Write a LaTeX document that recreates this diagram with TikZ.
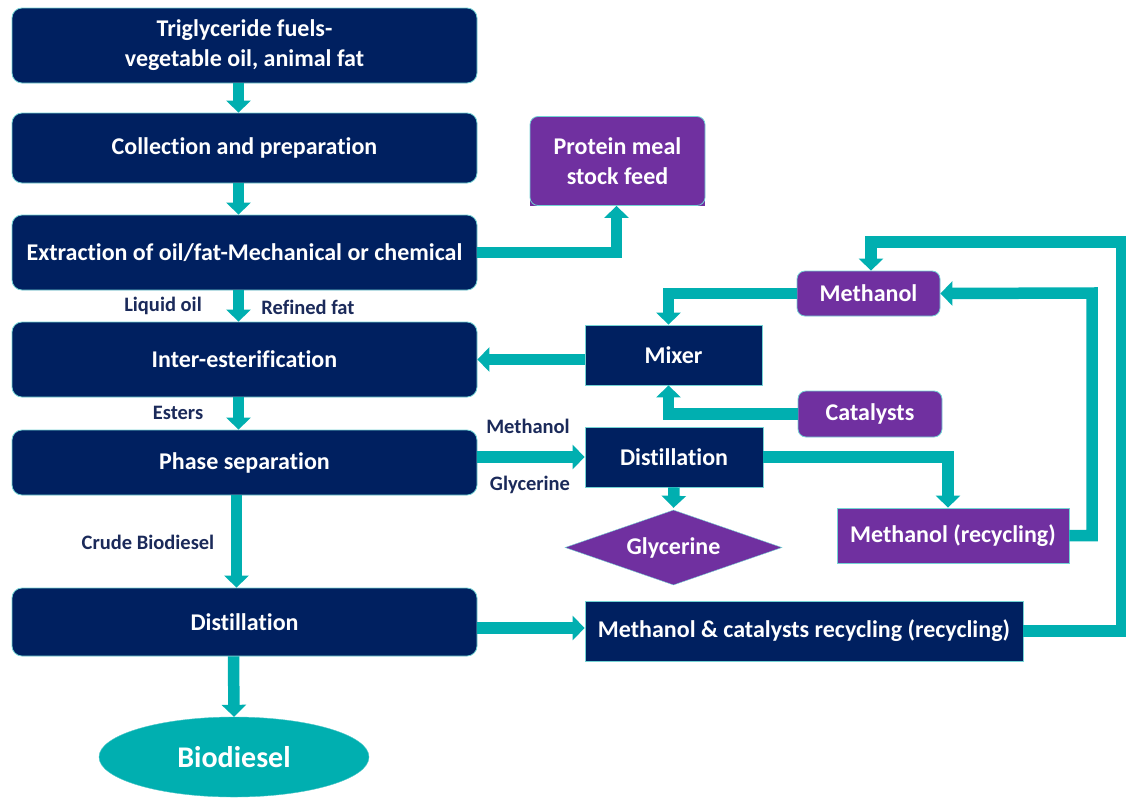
\documentclass[tikz,border=0pt]{standalone}
\usepackage{fontspec}
\setmainfont{Carlito}[Ligatures=NoCommon]
\usetikzlibrary{positioning, arrows.meta, shapes.geometric, backgrounds}
\definecolor{navy}{HTML}{002060}
\definecolor{plum}{HTML}{7030A0}
\definecolor{pipe}{HTML}{00AFB0}
\definecolor{ink}{HTML}{1B2A5A}
\tikzset{
  every node/.style = {font=\bfseries, text=white},
  bdbase/.style  = {draw=pipe!55, line width=0.8pt, align=center, inner sep=3pt,
                    font=\fontsize{24}{30}\selectfont\bfseries},
  bdmain/.style  = {bdbase, fill=navy, rounded corners=10pt, minimum width=465pt},
  bdunit/.style  = {bdbase, fill=navy},
  bdside/.style  = {bdbase, fill=plum, rounded corners=8pt},
  bdflat/.style  = {bdbase, fill=plum},
  bdgo/.style    = {-{Triangle[length=12pt,width=24pt]}, draw=pipe, line width=11.5pt},
  bdlab/.style   = {font=\fontsize{20.5}{24}\selectfont\bfseries, text=ink},
}

\begin{document}
\begin{tikzpicture}[x=1pt, y=-1pt]
\useasboundingbox (0,0) rectangle (1126,801);

% main line, left column
\node[bdmain, minimum height=75pt] (trig)  at (244.5,45.5)  {Triglyceride fuels-\\vegetable oil, animal fat};
\node[bdmain, minimum height=70pt] (coll)  at (244.5,148)   {Collection and preparation};
\node[bdmain, minimum height=75pt] (extr)  at (244.5,252.5) {Extraction of oil/fat-Mechanical or chemical};
\node[bdmain, minimum height=75pt] (inter) at (244.5,359.5) {Inter-esterification};
\node[bdmain, minimum height=65pt] (phase) at (244.5,462.5) {Phase separation};
\node[bdmain, minimum height=68pt] (dist)  at (244.5,622)   {Distillation};
\node[ellipse, fill=pipe, draw=pipe!70!white, minimum width=270pt, minimum height=80pt,
      font=\fontsize{30}{34}\selectfont\bfseries] (bio) at (234,757) {Biodiesel};

% side units
\node[bdside, minimum width=175pt, minimum height=89pt] (prot) at (617.5,161) {Protein meal\\stock feed};
\begin{scope}[on background layer]
  \fill[plum] (prot.west) rectangle (prot.south east);
\end{scope}
\node[bdside, minimum width=143pt, minimum height=45pt] (meth)    at (868.5,293.5) {Methanol};
\node[bdunit, minimum width=177pt, minimum height=60pt] (mix)     at (673.5,355)   {Mixer};
\node[bdside, minimum width=144pt, minimum height=46pt] (cat)     at (870,414)     {Catalysts};
\node[bdunit, minimum width=178pt, minimum height=60pt] (dist2)   at (674,457)     {Distillation};
\node[diamond, fill=plum, draw=pipe!55, aspect=2.9, minimum width=217pt, minimum height=75pt,
      inner sep=0pt, font=\fontsize{24}{28}\selectfont\bfseries] (gly) at (673.5,547.5) {Glycerine};
\node[bdflat, minimum width=232pt, minimum height=55pt] (methrec) at (953,535.5)   {Methanol (recycling)};
\node[bdunit, minimum width=438pt, minimum height=60pt] (mcrec)   at (804,631)     {Methanol \& catalysts recycling (recycling)};

\coordinate (loopM) at (1092,293);
\coordinate (loopR) at (1122,242);

% connectors
\foreach \a/\b in {trig/coll, coll/extr, extr/inter, inter/phase}{
  \draw[bdgo] ([xshift=-6pt]\a.south) -- ([xshift=-6pt]\b.north);}
\draw[bdgo] ([xshift=-8pt]phase.south) -- ([xshift=-8pt]dist.north);
\draw[bdgo] ([xshift=-11pt]dist.south) -- (bio.north);

\draw[bdgo] (extr.east) -| ([xshift=-1pt]prot.south);
\draw[bdgo] (mix.west |- inter.east) -- (inter.east);
\draw[bdgo] (meth.west) -| ([xshift=-5pt]mix.north);
\draw[bdgo] (cat.west) -| ([xshift=-5pt]mix.south);
\draw[bdgo] (phase.east |- dist2.west) -- (dist2.west);
\draw[bdgo] (dist2.south) -- ([yshift=2pt]gly.north);
\draw[bdgo] (dist2.east) -| ([xshift=-5pt]methrec.north);
\draw[bdgo] (methrec.east) -| (loopM) -- (meth.east);
\draw[bdgo] ([yshift=-6pt]dist.east) -- ([yshift=3pt]mcrec.west);
\draw[bdgo] (mcrec.east) -| (loopR) -| ([xshift=2.5pt]meth.north);

% stream labels
\node[bdlab] (lliq) at (163,306) {Liquid oil};
\node[bdlab] (lref) at (308,307) {Refined fat};
\node[bdlab] (lest) at (178,413) {Esters};
\node[bdlab] (lcru) at (148,542) {Crude Biodiesel};
\node[bdlab] (lmet) at (528,426) {Methanol};
\node[bdlab] (lgly) at (530,485) {Glycerine};
\end{tikzpicture}
\end{document}
